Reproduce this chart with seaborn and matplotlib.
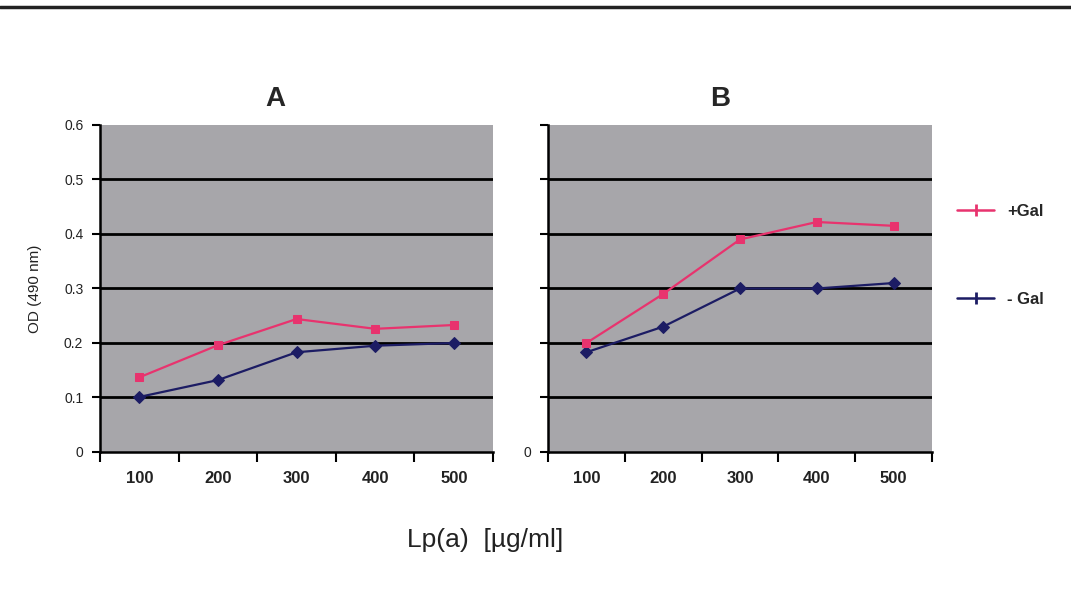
import numpy as np
import pandas as pd
import matplotlib
matplotlib.use("Agg")
import matplotlib.pyplot as plt
from matplotlib.lines import Line2D
import seaborn as sns

conc = ["100", "200", "300", "400", "500"]

# panel A
a_plus = [0.137, 0.196, 0.244, 0.226, 0.233]
a_minus = [0.101, 0.132, 0.183, 0.195, 0.200]
# panel B
b_plus = [0.200, 0.290, 0.390, 0.422, 0.415]
b_minus = [0.183, 0.230, 0.300, 0.300, 0.310]

pink = "#e8336e"
navy = "#1c1c64"
gray_bg = "#a7a6aa"

sns.set_style("white")
plt.rcParams["font.family"] = ["Liberation Sans", "DejaVu Sans"]

fig = plt.figure(figsize=(10.71, 5.89), dpi=100)
axA = fig.add_axes([0.0934, 0.2326, 0.367, 0.5552])
axB = fig.add_axes([0.5117, 0.2326, 0.3585, 0.5552])


def draw(ax, plus, minus, title, show_labels):
    df = pd.DataFrame({"x": np.arange(len(conc)), "plus": plus, "minus": minus})
    ax.set_facecolor(gray_bg)
    for y in [0.1, 0.2, 0.3, 0.4, 0.5]:
        ax.axhline(y, color="black", lw=2, zorder=1)
    sns.lineplot(data=df, x="x", y="minus", ax=ax, color=navy, lw=1.6,
                 marker="D", markersize=6, markeredgecolor=navy, zorder=3)
    sns.lineplot(data=df, x="x", y="plus", ax=ax, color=pink, lw=1.6,
                 marker="s", markersize=6, markeredgecolor=pink, zorder=4)
    ax.set_xlim(-0.5, len(conc) - 0.5)
    ax.set_ylim(0, 0.6)
    ax.set_xticks(np.arange(-0.5, len(conc), 1.0))
    ax.set_xticklabels([])
    ax.set_xticks(np.arange(len(conc)), minor=True)
    ax.set_xticklabels(conc, minor=True, fontsize=12, fontweight="bold",
                       color="#222222")
    ax.tick_params(axis="x", which="major", direction="out", length=7,
                   width=1.5, color="black", bottom=True)
    ax.tick_params(axis="x", which="minor", length=0, pad=14)
    ax.set_yticks(np.arange(0, 0.61, 0.1))
    if show_labels:
        ax.set_yticklabels(["0", "0.1", "0.2", "0.3", "0.4", "0.5", "0.6"],
                           fontsize=10, color="#222222")
    else:
        ax.set_yticklabels(["0", "", "", "", "", "", ""], fontsize=10,
                           color="#222222")
    ax.tick_params(axis="y", direction="out", length=6, width=1.5,
                   color="black", left=True, pad=6)
    for side in ["top", "right"]:
        ax.spines[side].set_visible(False)
    ax.spines["left"].set_linewidth(1.8)
    ax.spines["bottom"].set_linewidth(1.8)
    ax.spines["left"].set_color("black")
    ax.spines["bottom"].set_color("black")
    ax.set_xlabel("")
    ax.set_ylabel("")
    ax.set_title(title, fontsize=20, fontweight="bold", pad=14, x=0.447)


draw(axA, a_plus, a_minus, "A", True)
draw(axB, b_plus, b_minus, "B", False)

axA.set_ylabel("OD (490 nm)", fontsize=11, color="#222222", labelpad=16)
fig.text(0.453, 0.083, "Lp(a)  [\u00b5g/ml]", fontsize=19, color="#222222",
         ha="center", va="center")

handles = [
    Line2D([0], [0], color=pink, lw=1.8, marker="|", markersize=9,
           markeredgewidth=2),
    Line2D([0], [0], color=navy, lw=1.8, marker="|", markersize=9,
           markeredgewidth=2),
]
fig.legend(handles, ["+Gal", "- Gal"], loc="center left",
           bbox_to_anchor=(0.88, 0.566), frameon=False, handlelength=2.2,
           labelspacing=4.4, prop={"weight": "bold", "size": 12})

fig.add_artist(Line2D([0, 1], [0.988, 0.988], color="#222222", lw=2.5,
                      transform=fig.transFigure))

fig.savefig("out.png", dpi=100)
